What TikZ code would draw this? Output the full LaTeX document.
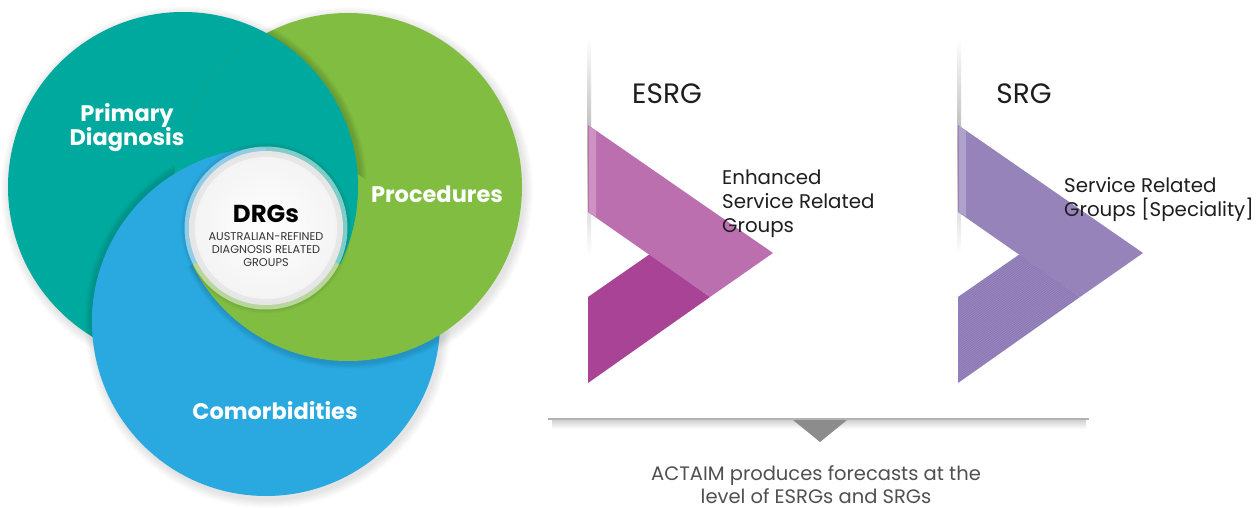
\documentclass[tikz,border=0pt]{standalone}
\usepackage{fontspec}
\setmainfont{Poppins}

\definecolor{tealc}{HTML}{00A99D}
\definecolor{greenc}{HTML}{80BD41}
\definecolor{bluec}{HTML}{29A9E0}
\definecolor{pinklight}{HTML}{BB6FAE}
\definecolor{pinkdark}{HTML}{A84395}
\definecolor{purplec}{HTML}{9583B9}
\definecolor{purpledark}{HTML}{8B77B4}
\definecolor{txt}{HTML}{1E1E1E}
\definecolor{notetxt}{HTML}{505050}

\tikzset{
  circlabel/.style={text=white, font=\bfseries\fontsize{22.5}{24}\selectfont, align=center, inner sep=0pt},
  heading/.style={text=txt, font=\fontsize{28}{30}\selectfont, inner sep=0pt},
  desc/.style={text=txt, font=\fontsize{19.8}{24}\selectfont, align=left, inner sep=0pt, anchor=west},
  softshadow/.style={black, opacity=0.012},
}

\begin{document}
\begin{tikzpicture}[x=1pt,y=-1pt]
\useasboundingbox (0,0) rectangle (1257,508);
\fill[white] (0,0) rectangle (1257,508);

% ---------- Venn circles ----------
\coordinate (ct) at (183,187);
\coordinate (cg) at (348,187);
\coordinate (cb) at (266,322);
\coordinate (cd) at (266,228);

% soft shadows behind the three circles
\foreach \k in {1,...,9}{
  \fill[softshadow] ([shift={(2,3)}]ct) circle (175pt+\k pt);
  \fill[softshadow] ([shift={(2,3)}]cg) circle (174pt+\k pt);
  \fill[softshadow] ([shift={(2,3)}]cb) circle (174pt+\k pt);
}

% teal, then blue over teal
\fill[tealc] (ct) circle (175pt);
\begin{scope}
  \clip (ct) circle (175pt);
  \foreach \k in {1,...,6}
    \fill[black, opacity=0.02] ([shift={(-1,-2)}]cb) circle (174pt+\k pt);
\end{scope}
\fill[bluec] (cb) circle (174pt);

% green over blue (edge shadow only along the visible lower rim)
\begin{scope}
  \clip (cb) circle (174pt);
  \clip (0,262) rectangle (600,600);
  \foreach \k in {1,...,6}
    \fill[black, opacity=0.02] ([shift={(1,2)}]cg) circle (174pt+\k pt);
\end{scope}
\fill[greenc] (cg) circle (174pt);

% teal over green, outside blue
\begin{scope}
  \clip (cg) circle (174pt);
  \begin{scope}[even odd rule]
    \clip (-10,-10) rectangle (600,600) (cb) circle (174pt);
    \foreach \k in {1,...,7}
      \fill[black, opacity=0.025] ([shift={(2,1)}]ct) circle (175pt+\k pt);
    \fill[tealc] (ct) circle (175pt);
  \end{scope}
\end{scope}

% pinwheel corners of the triple overlap
\begin{scope}
  \clip (ct) circle (175pt);
  \clip (cb) circle (174pt);
  \fill[bluec] (0,0) -- (266,0) -- (266,228) -- (192,265) -- (0,361) -- cycle;
\end{scope}
\begin{scope}
  \clip (ct) circle (175pt);
  \clip (cg) circle (174pt);
  \fill[tealc] (266,0) -- (600,0) -- (600,394) -- (340,264.5) -- (266,228) -- cycle;
\end{scope}

% central glass disc
\foreach \k in {1,...,4}
  \fill[black, opacity=0.02] (cd) circle (81.5pt+\k pt);
\fill[white, opacity=0.5] (cd) circle (81.5pt);
\shade[inner color=white, outer color=black!10] (cd) circle (77pt);
\fill[white, opacity=0.55] (cd) circle (71pt);

\node[text=black, font=\bfseries\fontsize{24.5}{26}\selectfont, inner sep=0pt] (drg) at (266,214) {DRGs};
\node[text=black!80, font=\fontsize{11.3}{12.6}\selectfont, align=center, inner sep=0pt] (drgsub) at (266,249.5)
  {AUSTRALIAN-REFINED\\DIAGNOSIS RELATED\\GROUPS};

\node[circlabel] (pd) at (127,128) {Primary\\Diagnosis};
\node[circlabel] (proc) at (437,194) {Procedures};
\node[circlabel] (como) at (275,411) {Comorbidities};

% ---------- ESRG chevron ----------
\shade[top color=white, bottom color=white, middle color=black!30] (587,38) rectangle (591,255);
\fill[pinkdark] (588,297) -- (650,254) -- (710,297) -- (588,383) -- cycle;
\fill[pinklight] (588,125) -- (773,253) -- (710,297) -- (588,212) -- cycle;
\fill[white, opacity=0.25] (589,126) -- (596,131) -- (596,217) -- (589,212) -- cycle;

\node[heading] (esrg) at (667,94) {ESRG};
\node[desc] (esrgd) at (722,204) {Enhanced\\Service Related\\Groups};

% ---------- SRG chevron ----------
\shade[top color=white, bottom color=white, middle color=black!30] (957,38) rectangle (961,255);
\fill[purpledark] (958,297) -- (1020,254) -- (1080,297) -- (958,383) -- cycle;
\begin{scope}
  \clip (958,297) -- (1020,254) -- (1080,297) -- (958,383) -- cycle;
  \foreach \i in {0,...,60}
    \draw[white, opacity=0.16, line width=0.5pt] (950,300+2.2*\i) -- ++(140,-98);
\end{scope}
\fill[purplec] (958,125) -- (1143,253) -- (1080,297) -- (958,212) -- cycle;
\fill[white, opacity=0.25] (959,126) -- (966,131) -- (966,217) -- (959,212) -- cycle;

\node[heading] (srg) at (1024,94) {SRG};
\node[desc] (srgd) at (1064,199.5) {Service Related\\Groups [Speciality]};

% ---------- summary bar and pointer ----------
\shade[top color=black!18, bottom color=white] (552,420) rectangle (1086,429);
\draw[black!30, line width=1.4pt] (548,419) -- (1089,419);
\fill[black!45] (793,420) -- (847,420) -- (820,442) -- cycle;

\node[text=notetxt, font=\fontsize{19.5}{23}\selectfont, align=center, inner sep=0pt] (note) at (816,485)
  {ACTAIM produces forecasts at the\\level of ESRGs and SRGs};
\end{tikzpicture}
\end{document}
